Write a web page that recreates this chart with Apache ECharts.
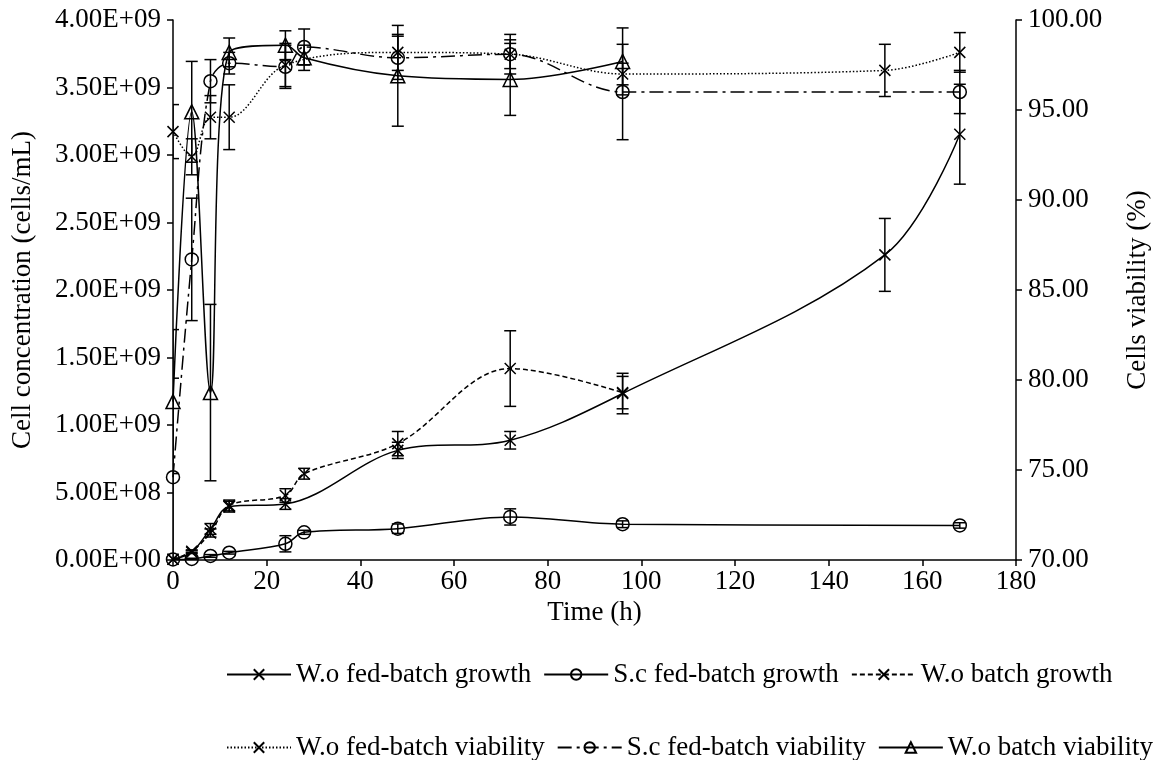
<!DOCTYPE html>
<html>
<head>
<meta charset="utf-8">
<script src="https://cdn.jsdelivr.net/npm/echarts@6/dist/echarts.min.js"></script>
<style>
  html, body { margin: 0; padding: 0; background: #fff; }
  #chart { width: 1160px; height: 760px; }
</style>
</head>
<body>
<div id="chart"></div>
<script>
// Sampling times (h)
const timesFed = [0, 4, 8, 12, 24, 48, 72, 96, 152, 168];
const timesSc = [0, 4, 8, 12, 24, 28, 48, 72, 96, 168];
const timesBatch = [0, 4, 8, 12, 24, 28, 48, 72, 96];

// Cell concentration (cells/mL) and standard deviations
const woFedGrowth = [0.005e9, 0.058e9, 0.23e9, 0.395e9, 0.415e9, 0.812e9, 0.887e9, 1.233e9, 2.26e9, 3.154e9];
const woFedGrowthErr = [0.005e9, 0.01e9, 0.04e9, 0.04e9, 0.04e9, 0.06e9, 0.065e9, 0.15e9, 0.27e9, 0.37e9];
const scFedGrowth = [0.004e9, 0.008e9, 0.03e9, 0.054e9, 0.12e9, 0.205e9, 0.232e9, 0.319e9, 0.265e9, 0.256e9];
const scFedGrowthErr = [0, 0.005e9, 0.01e9, 0.01e9, 0.06e9, 0.015e9, 0.035e9, 0.06e9, 0.025e9, 0.02e9];
const woBatchGrowth = [0.005e9, 0.065e9, 0.2e9, 0.404e9, 0.478e9, 0.639e9, 0.862e9, 1.418e9, 1.24e9];
const woBatchGrowthErr = [0.005e9, 0.01e9, 0.03e9, 0.04e9, 0.05e9, 0.04e9, 0.09e9, 0.28e9, 0.12e9];

// Cell viability (%) and standard deviations
const woFedViab = [93.8, 92.4, 94.6, 94.6, 97.5, 98.2, 98.1, 97.0, 97.2, 98.2];
const woFedViabErr = [1.5, 1.0, 1.2, 1.8, 1.2, 1.0, 1.1, 0.6, 1.45, 1.1];
const scFedViab = [74.6, 86.7, 96.6, 97.6, 97.4, 98.5, 97.9, 98.1, 96.0, 96.0];
const scFedViabErr = [5.5, 3.4, 1.2, 0.6, 1.2, 1.0, 1.2, 0.8, 2.65, 1.2];
const woBatchViab = [78.8, 94.9, 79.3, 98.2, 98.6, 97.9, 96.9, 96.7, 97.7];
const woBatchViabErr = [4.0, 2.8, 4.9, 0.8, 0.8, 0.7, 2.8, 2.0, 1.86];

const seriesNames = [
  'W.o fed-batch growth', 'S.c fed-batch growth', 'W.o batch growth',
  'W.o fed-batch viability', 'S.c fed-batch viability', 'W.o batch viability'
];

const FONT = 'Liberation Serif, Times New Roman, serif';
const FS = 27;
const CROSS = 'path://M0 0L10 10M10 0L0 10';

function pairs(xs, ys) { return xs.map((x, i) => [x, ys[i]]); }
function errData(xs, ys, es) { return xs.map((x, i) => [x, ys[i] - es[i], ys[i] + es[i]]); }

// Spreadsheet-style scientific notation, e.g. 5.00E+08
function sci(v) {
  if (v === 0) return '0.00E+00';
  const e = Math.floor(Math.log10(Math.abs(v)) + 1e-9);
  const m = v / Math.pow(10, e);
  return m.toFixed(2) + 'E+' + String(e).padStart(2, '0');
}

function lineSeries(name, xs, ys, symbol, size, lineType, yAxisIndex) {
  return {
    name, type: 'line', yAxisIndex,
    data: pairs(xs, ys),
    smooth: 0.35,
    symbol, symbolSize: size,
    color: '#000',
    lineStyle: { color: '#000', width: 1.5, type: lineType },
    itemStyle: { color: 'transparent', borderColor: '#000', borderWidth: 1.5 },
    emphasis: { disabled: true },
    z: 3
  };
}

// Vertical error bars with caps
function errorSeries(xs, ys, es, yAxisIndex) {
  return {
    type: 'custom', yAxisIndex, silent: true, clip: true, z: 2,
    data: errData(xs, ys, es),
    encode: { x: 0, y: [1, 2] },
    renderItem(params, api) {
      const lo = api.coord([api.value(0), api.value(1)]);
      const hi = api.coord([api.value(0), api.value(2)]);
      const w = 6;
      const st = { stroke: '#000', lineWidth: 1.5 };
      return {
        type: 'group',
        children: [
          { type: 'line', shape: { x1: lo[0], y1: lo[1], x2: hi[0], y2: hi[1] }, style: st },
          { type: 'line', shape: { x1: lo[0] - w, y1: lo[1], x2: lo[0] + w, y2: lo[1] }, style: st },
          { type: 'line', shape: { x1: hi[0] - w, y1: hi[1], x2: hi[0] + w, y2: hi[1] }, style: st }
        ]
      };
    }
  };
}

const axisCommon = {
  axisLine: { show: true, lineStyle: { color: '#000', width: 1.5 } },
  axisTick: { show: true, inside: false, length: 6, lineStyle: { color: '#000', width: 1.5 } },
  splitLine: { show: false },
  axisLabel: { color: '#000', fontFamily: FONT, fontSize: FS },
  nameTextStyle: { color: '#000', fontFamily: FONT, fontSize: FS },
  nameLocation: 'middle'
};

const legendCommon = {
  left: 221, itemWidth: 64, itemHeight: 13, itemGap: 12,
  textStyle: { color: '#000', fontFamily: FONT, fontSize: FS },
  selectedMode: false
};

const option = {
  backgroundColor: '#fff',
  animation: false,
  grid: { left: 173, right: 144, top: 20, bottom: 200 },
  legend: [
    Object.assign({ top: 656, data: seriesNames.slice(0, 3) }, legendCommon),
    Object.assign({ top: 729, data: seriesNames.slice(3) }, legendCommon)
  ],
  xAxis: Object.assign({}, axisCommon, {
    type: 'value', min: 0, max: 180, interval: 20,
    name: 'Time (h)', nameGap: 27,
    axisLabel: Object.assign({}, axisCommon.axisLabel, { margin: 8 })
  }),
  yAxis: [
    Object.assign({}, axisCommon, {
      type: 'value', min: 0, max: 4e9, interval: 5e8, position: 'left',
      name: 'Cell concentration (cells/mL)', nameGap: 137, nameRotate: 90,
      axisLabel: Object.assign({}, axisCommon.axisLabel, { margin: 12, formatter: sci })
    }),
    Object.assign({}, axisCommon, {
      type: 'value', min: 70, max: 100, interval: 5, position: 'right',
      name: 'Cells viability (%)', nameGap: 108, nameRotate: 90,
      axisLabel: Object.assign({}, axisCommon.axisLabel, { margin: 12, formatter: v => v.toFixed(2) })
    })
  ],
  series: [
    errorSeries(timesFed, woFedGrowth, woFedGrowthErr, 0),
    errorSeries(timesSc, scFedGrowth, scFedGrowthErr, 0),
    errorSeries(timesBatch, woBatchGrowth, woBatchGrowthErr, 0),
    errorSeries(timesFed, woFedViab, woFedViabErr, 1),
    errorSeries(timesSc, scFedViab, scFedViabErr, 1),
    errorSeries(timesBatch, woBatchViab, woBatchViabErr, 1),
    lineSeries(seriesNames[0], timesFed, woFedGrowth, CROSS, 11, 'solid', 0),
    lineSeries(seriesNames[1], timesSc, scFedGrowth, 'circle', 13, 'solid', 0),
    lineSeries(seriesNames[2], timesBatch, woBatchGrowth, CROSS, 11, [5, 3], 0),
    lineSeries(seriesNames[3], timesFed, woFedViab, CROSS, 11, [1.5, 2], 1),
    lineSeries(seriesNames[4], timesSc, scFedViab, 'circle', 13, [14, 5, 3, 5], 1),
    lineSeries(seriesNames[5], timesBatch, woBatchViab, 'triangle', 14, 'solid', 1)
  ]
};

const chart = echarts.init(document.getElementById('chart'), null, { renderer: 'canvas' });
chart.setOption(option);
</script>
</body>
</html>
